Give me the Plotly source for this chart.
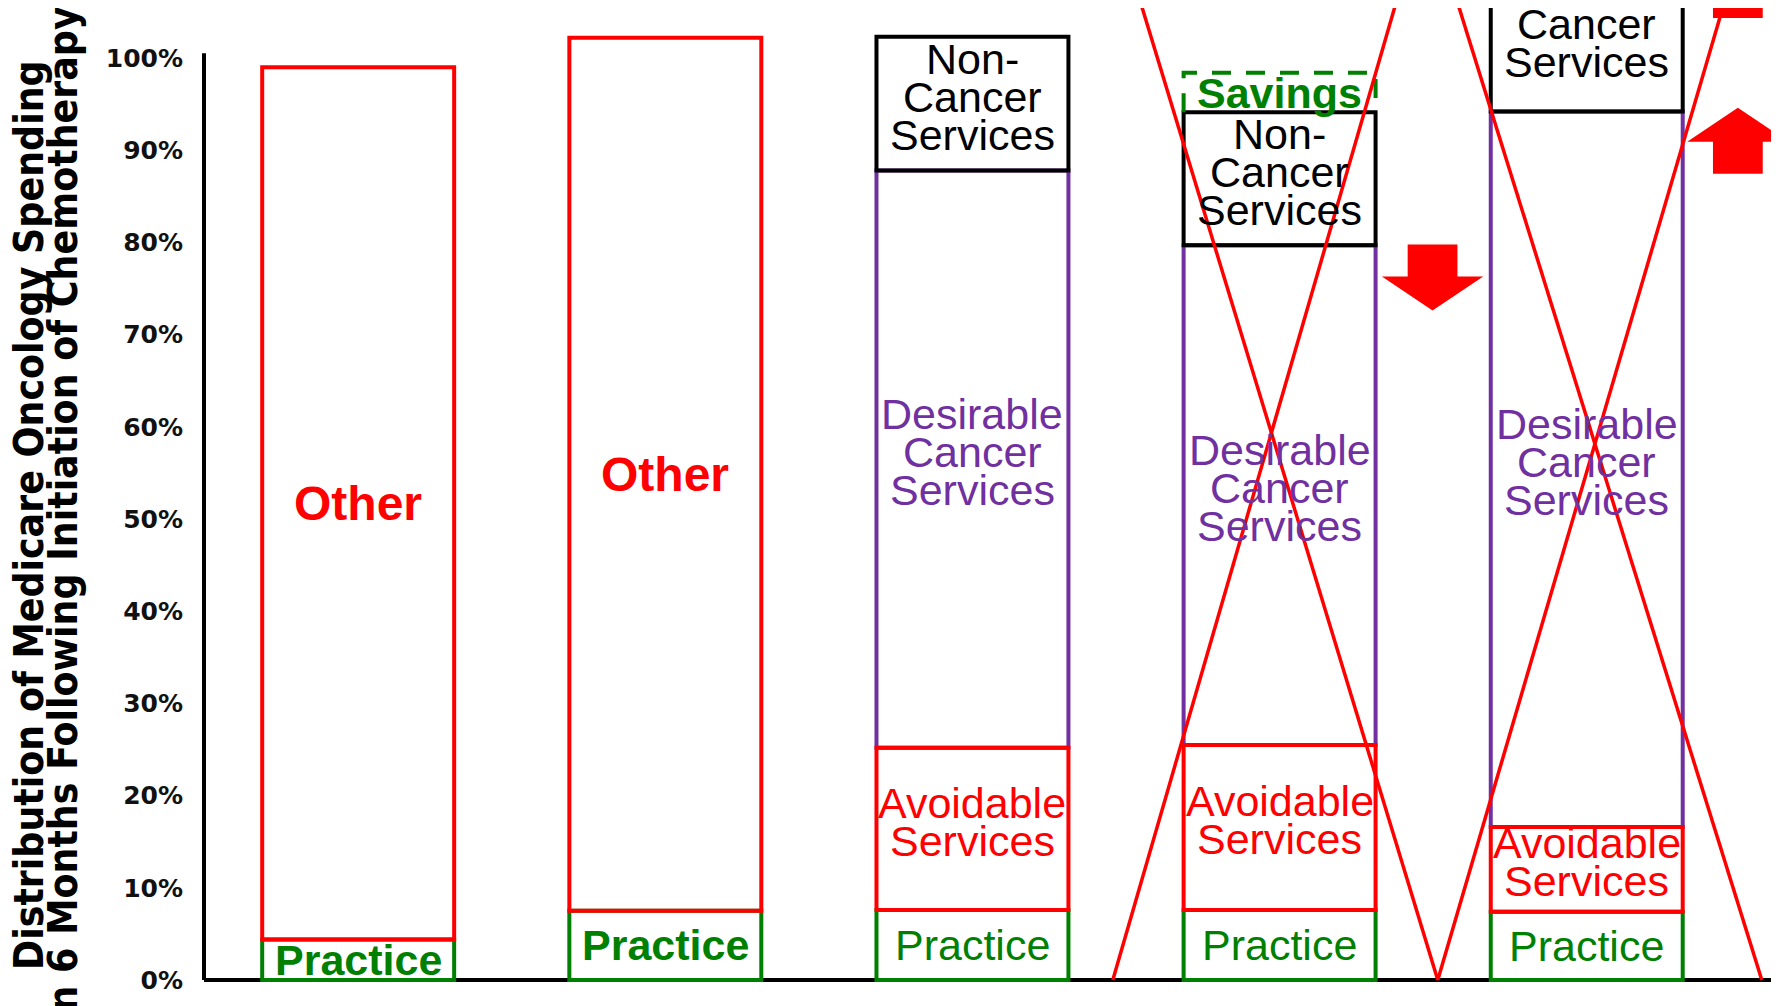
import plotly.graph_objects as go

# five scenarios, left to right; values are % of spending
bar_x = [0, 1, 2, 3, 4]
practice = [4.4, 7.5, 7.6, 7.6, 7.4]
other = [94.6, 94.7, None, None, None]
avoidable = [None, None, 17.6, 17.9, 9.2]
desirable = [None, None, 62.6, 54.2, 77.6]
non_cancer = [None, None, 14.5, 14.4, 17.5]
savings = [None, None, None, 4.3, None]

practice_bold = [True, True, False, False, False]

# red cross-out lines (bar index units, % units)
cross_x0 = [2.457, 3.515, 3.515, 4.570]
cross_y0 = [0, 0, 0, 0]
cross_x1 = [3.414, 2.511, 4.483, 3.542]
cross_y1 = [110, 110, 110, 110]

# block arrows: centre, tip value, direction (1 up, -1 down)
arrow_x = [3.498, 4.492, 4.492]
arrow_tip = [72.6, 94.6, 111.5]
arrow_dir = [-1, 1, 1]

y_ticks = list(range(0, 101, 10))
y_ticktext = [str(v) + '%' for v in y_ticks]

RED = '#FF0000'
GREEN = '#008000'
PURPLE = '#7030A0'
BLACK = '#000000'
LABEL_FONT = 'Arial, Liberation Sans, sans-serif'
BAR_W = 0.625
LINE_GAP = 38
MULTI_LIFT = 7

red_vals = [o if o is not None else a for o, a in zip(other, avoidable)]
red_base = practice[:]
purple_base = [p + r for p, r in zip(practice, red_vals)]
black_base = [b + d if d is not None else None for b, d in zip(purple_base, desirable)]
savings_base = [b + n if n is not None else None for b, n in zip(black_base, non_cancer)]

fig = go.Figure()


def box(vals, base, color):
    fig.add_trace(go.Bar(x=bar_x, y=vals, base=base, width=BAR_W,
                         marker=dict(color='rgba(0,0,0,0)', line=dict(color=color, width=4)),
                         hoverinfo='skip'))


box(desirable, purple_base, PURPLE)
box(practice, [0] * 5, GREEN)
box(red_vals, red_base, RED)
box(non_cancer, black_base, BLACK)

# dashed savings box
for x, b, s in zip(bar_x, savings_base, savings):
    if s is None:
        continue
    fig.add_trace(go.Scatter(x=[x - BAR_W / 2, x - BAR_W / 2, x + BAR_W / 2, x + BAR_W / 2],
                             y=[b, b + s, b + s, b], mode='lines',
                             line=dict(color=GREEN, width=4, dash='19px,15px'), hoverinfo='skip'))

# cross-out lines
for x0, y0, x1, y1 in zip(cross_x0, cross_y0, cross_x1, cross_y1):
    fig.add_trace(go.Scatter(x=[x0, x1], y=[y0, y1], mode='lines',
                             line=dict(color=RED, width=3.5), hoverinfo='skip'))

# block arrows
HEAD_HALF, STEM_HALF, HEAD_LEN, STEM_LEN = 0.165, 0.081, 3.69, 3.47
for c, t, d in zip(arrow_x, arrow_tip, arrow_dir):
    hb = t - d * HEAD_LEN
    sb = hb - d * STEM_LEN
    xs = [c, c + HEAD_HALF, c + STEM_HALF, c + STEM_HALF, c - STEM_HALF, c - STEM_HALF, c - HEAD_HALF, c]
    ys = [t, hb, hb, sb, sb, hb, hb, t]
    fig.add_trace(go.Scatter(x=xs, y=ys, mode='lines', fill='toself', fillcolor=RED,
                             line=dict(width=0, color=RED), hoverinfo='skip'))


def label(x, mid, text, color, size, bold):
    lines = text.split('<br>')
    n = len(lines)
    lift = MULTI_LIFT if n > 1 else 0
    for k, line in enumerate(lines):
        fig.add_annotation(x=x, y=mid, text=line, showarrow=False,
                           yshift=((n - 1) / 2 - k) * LINE_GAP + lift,
                           font=dict(family=LABEL_FONT, size=size, color=color,
                                     weight='bold' if bold else 'normal'))


for i, x in enumerate(bar_x):
    label(x, practice[i] / 2, 'Practice', GREEN, 43, practice_bold[i])
    if other[i] is not None:
        label(x, red_base[i] + other[i] / 2, 'Other', RED, 48, True)
    if avoidable[i] is not None:
        label(x, red_base[i] + avoidable[i] / 2, 'Avoidable<br>Services', RED, 43, False)
    if desirable[i] is not None:
        label(x, purple_base[i] + desirable[i] / 2, 'Desirable<br>Cancer<br>Services', PURPLE, 43, False)
    if non_cancer[i] is not None:
        label(x, black_base[i] + non_cancer[i] / 2, 'Non-<br>Cancer<br>Services', BLACK, 43, False)
    if savings[i] is not None:
        label(x, savings_base[i] + savings[i] / 2, 'Savings', GREEN, 43, True)

# axis lines
fig.add_shape(type='line', xref='paper', x0=0, x1=1, yref='y', y0=0, y1=0,
              line=dict(color=BLACK, width=4), layer='below')
fig.add_shape(type='line', xref='paper', x0=0, x1=0, yref='y', y0=0, y1=100.5,
              line=dict(color=BLACK, width=4), layer='below')

# y-axis title, two tightly spaced lines
title_font = dict(family='Liberation Sans Narrow, Arial Narrow, DejaVu Sans Condensed',
                  size=40.5, color=BLACK, weight='bold')
fig.add_annotation(xref='paper', yref='paper', x=0, y=0.492, xshift=-175, textangle=-90,
                   xanchor='center', yanchor='middle',
                   text='Distribution of Medicare Oncology Spending', showarrow=False, font=title_font)
fig.add_annotation(xref='paper', yref='paper', x=0, y=0.492, xshift=-141, textangle=-90,
                   xanchor='center', yanchor='middle',
                   text='in 6 Months Following Initiation of Chemotherapy', showarrow=False, font=title_font)

# page body keeps an 8px margin, so the figure is 8px smaller each way
fig.update_layout(
    width=1771, height=998,
    margin=dict(l=196, r=0, t=0, b=0),
    paper_bgcolor='white', plot_bgcolor='white',
    showlegend=False, barmode='overlay',
    xaxis=dict(range=[-0.502, 4.626], visible=False),
    yaxis=dict(range=[-2.82, 105.42], tickvals=y_ticks, ticktext=y_ticktext,
               showgrid=False, zeroline=False, showline=False, ticks='',
               ticklabelstandoff=20,
               tickfont=dict(family='DejaVu Sans, Verdana', size=25, color='#111111', weight='bold')),
)

fig.write_html('out.html')
